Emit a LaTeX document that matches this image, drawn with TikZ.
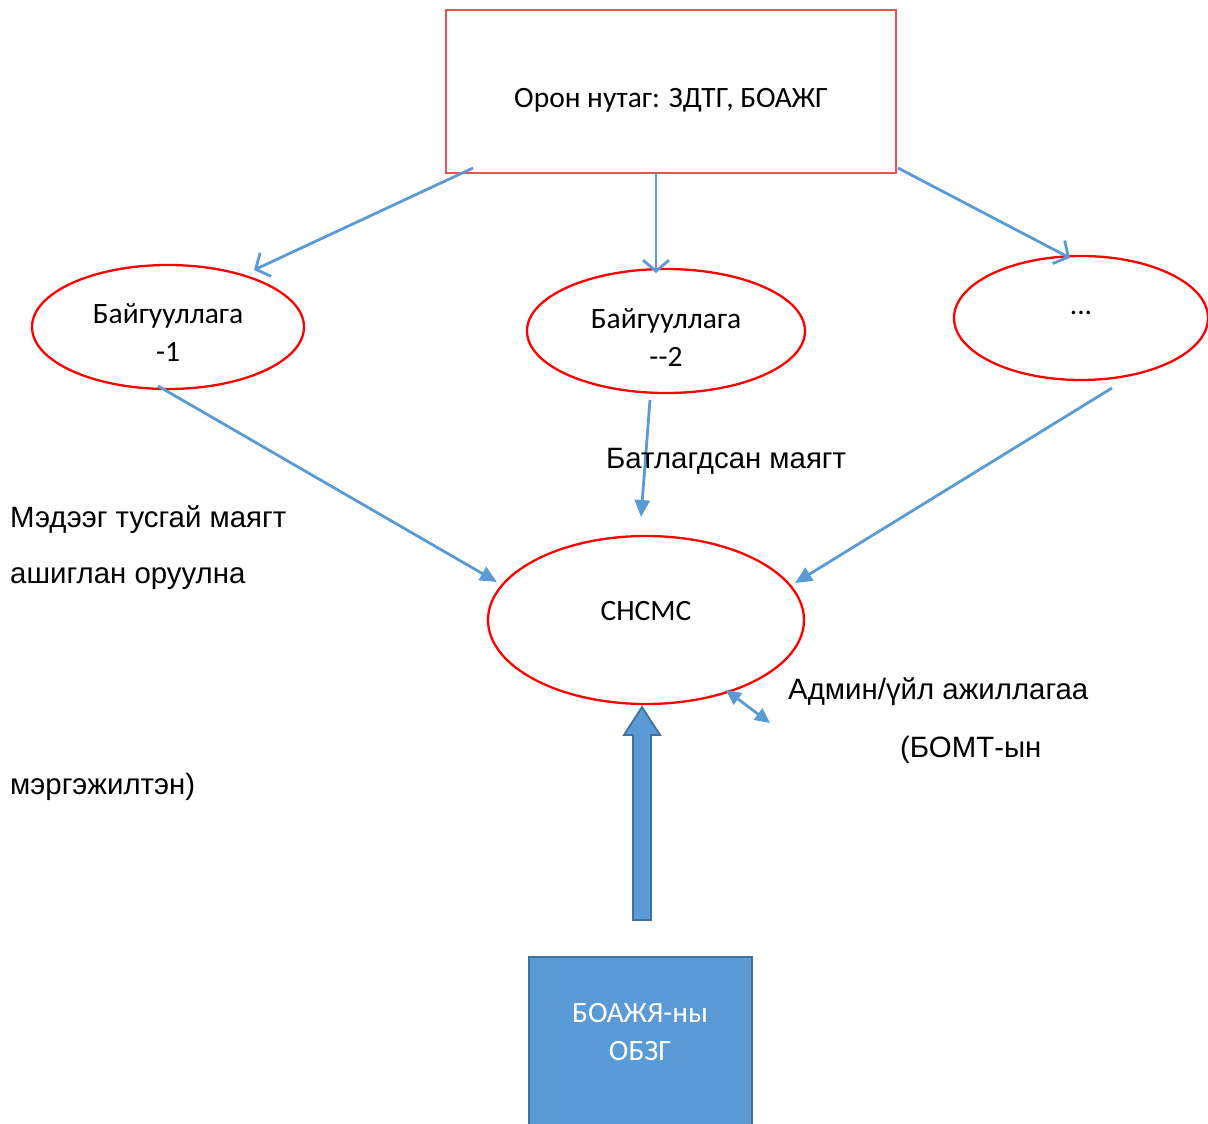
\documentclass[tikz,border=0pt]{standalone}
\usepackage{fontspec}
\setmainfont{Liberation Sans}
\newfontfamily\calib{Carlito}
\usetikzlibrary{shapes.geometric,arrows.meta,calc}
\definecolor{redline}{RGB}{255,0,0}
\definecolor{redbox}{RGB}{240,80,80}
\definecolor{bluearr}{RGB}{91,155,213}
\definecolor{blueedge}{RGB}{65,113,156}
\tikzset{
  orgell/.style={draw=redline, line width=2.3pt, ellipse, inner sep=0pt},
  ctext/.style={font=\calib\fontsize{29.5}{38}\selectfont, align=center, inner sep=0pt},
  ltext/.style={font=\fontsize{29.4}{34}\selectfont, inner sep=0pt, anchor=west},
  openarr/.style={draw=bluearr, line width=2.8pt, -{Straight Barb[length=11pt,width=26pt,line width=2.8pt]}},
  fillarr/.style={draw=bluearr, line width=2.8pt, -{Triangle[length=17pt,width=15pt]}},
  dblarr/.style={draw=bluearr, line width=2.8pt, {Triangle[length=15pt,width=14pt]}-{Triangle[length=15pt,width=14pt]}},
}
\begin{document}
\begin{tikzpicture}[x=1pt,y=-1pt]
\useasboundingbox (0,0) rectangle (1208,1124);
\fill[white] (0,0) rectangle (1208,1124);
% top rectangle
\node[draw=redbox, line width=1.5pt, minimum width=450pt, minimum height=163pt, inner sep=0pt] (top) at (671,91.5) {};
\node[ctext] (toptxt) at (671,100) {Орон нутаг: ЗДТГ, БОАЖГ};
% ellipses
\node[orgell, minimum width=272pt, minimum height=124pt] (e1) at (168,327) {};
\node[ctext] (e1t) at (168,333) {Байгууллага\\-1};
\node[orgell, minimum width=278pt, minimum height=124pt] (e2) at (666,331) {};
\node[ctext] (e2t) at (666,338) {Байгууллага\\--2};
\node[orgell, minimum width=254pt, minimum height=124pt] (e3) at (1081,318) {};
\node[ctext] (e3t) at (1081,313) {...};
\node[orgell, minimum width=316pt, minimum height=168pt] (c) at (646,620) {};
\node[ctext] (ct) at (646,611) {СНСМС};
% blue box
\node[draw=blueedge, fill=bluearr, line width=1.8pt, minimum width=223pt, minimum height=180pt, inner sep=0pt] (b) at (640.5,1047) {};
\node[ctext, text=white] (bt) at (640,1032) {БОАЖЯ-ны\\ОБЗГ};
% block arrow
\coordinate (bas) at (642,920);
\coordinate (bah) at (642,707);
\draw[draw=blueedge, fill=bluearr, line width=1.8pt, line join=miter]
  ($(bas)+(-9,0)$) -- ($(bah)+(-9,28)$) -- ($(bah)+(-18,28)$) -- (bah) -- ($(bah)+(18,28)$) -- ($(bah)+(9,28)$) -- ($(bas)+(9,0)$) -- cycle;
% connector points
\coordinate (s1) at (473,168); \coordinate (t1) at (254,270);
\coordinate (s2) at (656,173); \coordinate (t2) at (656,273);
\coordinate (s3) at (898,168); \coordinate (t3) at (1070,258);
\coordinate (s4) at (158,386); \coordinate (t4) at (497,582);
\coordinate (s5) at (650,400); \coordinate (t5) at (641,517);
\coordinate (s6) at (1112,388); \coordinate (t6) at (795,583);
\coordinate (s7) at (726,690); \coordinate (t7) at (770,723);
\draw[openarr] (s1) -- (t1);
\draw[openarr] (s2) -- (t2);
\draw[openarr] (s3) -- (t3);
\draw[fillarr] (s4) -- (t4);
\draw[fillarr] (s5) -- (t5);
\draw[fillarr] (s6) -- (t6);
\draw[dblarr] (s7) -- (t7);
% free labels
\node[ltext] (l1) at (606,461) {Батлагдсан маягт};
\node[ltext] (l2) at (10,520) {Мэдээг тусгай маягт};
\node[ltext] (l3) at (10,579) {ашиглан оруулна};
\node[ltext] (l4) at (788,692) {Админ/үйл ажиллагаа};
\node[ltext] (l5) at (900,750) {(БОМТ-ын};
\node[ltext] (l6) at (10,787) {мэргэжилтэн)};
\end{tikzpicture}
\end{document}
